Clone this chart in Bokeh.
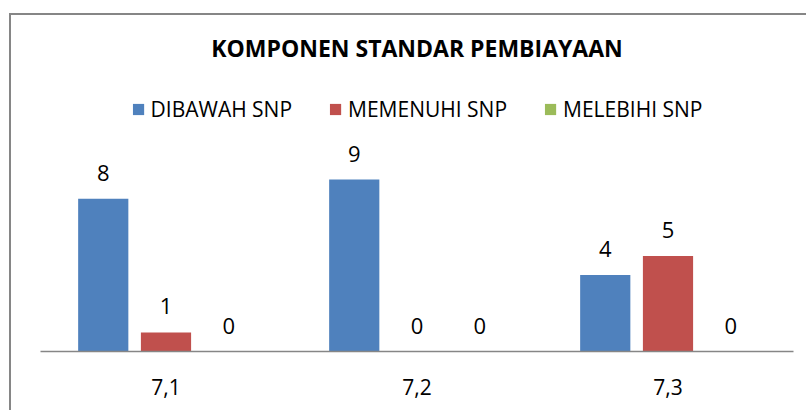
from bokeh.plotting import figure
from bokeh.models import ColumnDataSource, FactorRange, Range1d, LabelSet, Legend, LegendItem, InlineStyleSheet
from bokeh.core.properties import value
from bokeh.transform import dodge
from bokeh.embed import file_html
from bokeh.resources import INLINE

categories = ["7,1", "7,2", "7,3"]
dibawah = [8, 9, 4]
memenuhi = [1, 0, 5]
melebihi = [0, 0, 0]
series_names = ["DIBAWAH SNP", "MEMENUHI SNP", "MELEBIHI SNP"]
colors = ["#4F81BD", "#C0504D", "#9BBB59"]
title_text = "KOMPONEN STANDAR PEMBIAYAAN"

FONT = "Open Sans"

src = ColumnDataSource(dict(cat=categories, a=dibawah, b=memenuhi, c=melebihi,
                            la=[str(v) for v in dibawah],
                            lb=[str(v) for v in memenuhi],
                            lc=[str(v) for v in melebihi]))

p = figure(width=806, height=410, x_range=FactorRange(*categories),
           y_range=Range1d(0, 15.08), output_backend="svg", toolbar_location=None,
           min_border_left=40, min_border_right=13, min_border_top=63, min_border_bottom=59)
p.title.text = title_text
p.title.align = "center"
p.title.text_font = FONT
p.title.text_font_size = "23px"
p.title.text_font_style = "bold"
p.title.text_color = "#000000"
p.title.offset = 0
p.title.standoff = 0

p.outline_line_color = None
p.grid.grid_line_color = None
p.yaxis.visible = False

offsets = [-0.25, 0.0, 0.25]
cols = ["a", "b", "c"]
lcols = ["la", "lb", "lc"]
items = []
for off, col, lc, name, color in zip(offsets, cols, lcols, series_names, colors):
    r = p.vbar(x=dodge("cat", off, range=p.x_range), top=col, width=0.2, source=src,
               fill_color=color, line_color=None)
    items.append(LegendItem(label=name, renderers=[r]))
    labels = LabelSet(x=dodge("cat", off, range=p.x_range), y=col, text=lc, source=src,
                      text_align="center", text_baseline="middle", y_offset=26,
                      text_font=value(FONT), text_font_size="22px", text_color="#000000")
    p.add_layout(labels)

legend = Legend(items=items, orientation="horizontal", location="top_center",
                label_text_font=FONT, label_text_font_size="21px", label_text_color="#000000",
                glyph_width=14, glyph_height=14, label_standoff=6, spacing=36,
                label_height=14, border_line_color=None, background_fill_alpha=0, margin=32, padding=0)
p.add_layout(legend, "center")

p.xaxis.axis_line_color = "#868686"
p.xaxis.axis_line_width = 1.5
p.xaxis.major_tick_line_color = None
p.xaxis.minor_tick_line_color = None
p.xaxis.major_label_text_font = FONT
p.xaxis.major_label_text_font_size = "21px"
p.xaxis.major_label_text_color = "#000000"
p.xaxis.major_label_standoff = 21

p.stylesheets = [InlineStyleSheet(css="""
:host { position: relative; }
:host::after {
  content: ""; position: absolute; left: 9px; top: 13px; width: 900px; height: 600px;
  border: 2px solid #868686; pointer-events: none; box-sizing: border-box;
}
""")]

open("out.html", "w").write(file_html(p, INLINE))
